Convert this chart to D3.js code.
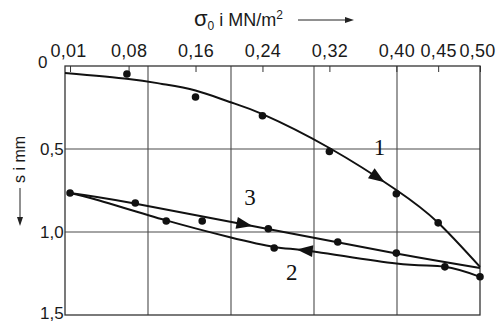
<!DOCTYPE html>
<html>
<head>
<meta charset="utf-8">
<script src="https://cdn.jsdelivr.net/npm/d3@7"></script>
<style>
  body { margin: 0; background: #fff; }
  svg { display: block; }
  .lab { font-family: "Liberation Sans Narrow", "Arial Narrow", "Liberation Sans", sans-serif; fill: #1a1a1a; }
  .num { font-family: "Liberation Serif", "DejaVu Serif", serif; fill: #111; }
</style>
</head>
<body>
<div id="chart"></div>
<script>
// Axis ticks
const xTicks = [0.01, 0.08, 0.16, 0.24, 0.32, 0.40, 0.45, 0.50];
const yTicks = [0, 0.5, 1.0, 1.5];

// Curve 1 - first loading (fitted line + measured points)
const c1LineX = [0.004, 0.08, 0.12, 0.16, 0.20, 0.24, 0.32, 0.40, 0.45, 0.50];
const c1LineS = [0.042, 0.078, 0.108, 0.148, 0.215, 0.29, 0.494, 0.747, 0.944, 1.21];
const c1DotX = [0.078, 0.16, 0.24, 0.32, 0.40, 0.45];
const c1DotS = [0.048, 0.187, 0.30, 0.515, 0.77, 0.945];

// Curve 2 - unloading
const c2LineX = [0.01, 0.045, 0.125, 0.20, 0.254, 0.305, 0.40, 0.458, 0.50];
const c2LineS = [0.765, 0.81, 0.93, 1.03, 1.09, 1.12, 1.19, 1.21, 1.27];
const c2DotX = [0.125, 0.254, 0.458, 0.50];
const c2DotS = [0.934, 1.096, 1.21, 1.27];

// Curve 3 - reloading
const c3LineX = [0.01, 0.084, 0.245, 0.40, 0.50];
const c3LineS = [0.765, 0.825, 0.98, 1.13, 1.217];
const c3DotX = [0.01, 0.088, 0.168, 0.247, 0.33, 0.40];
const c3DotS = [0.765, 0.825, 0.934, 0.98, 1.06, 1.127];

// Curve labels and arrow positions (sigma of arrow tip, direction)
const curveNames = ["1", "2", "3"];
const labelX = [0.380, 0.275, 0.225];
const labelS = [0.49, 1.24, 0.79];
const arrowX = [0.386, 0.281, 0.228];
const arrowDir = [1, -1, 1];

const width = 496, height = 322;
const fmt = d3.formatLocale({ decimal: ",", thousands: ".", grouping: [3], currency: ["", ""] });
const fmtX = fmt.format(".2f");
const fmtY = fmt.format(".1f");

const svg = d3.select("#chart").append("svg")
  .attr("width", width)
  .attr("height", height);

const x = d3.scaleLinear().domain([0.004, 0.50]).range([65, 480]);
const y = d3.scaleLinear().domain([0, 1.5]).range([66, 315]);

// Grid (5 equal columns, lines at 0,5 and 1,0)
const [x0, x1] = x.range();
const grid = svg.append("g").attr("stroke", "#4a4a4a").attr("stroke-width", 1.1);
grid.selectAll(".v").data(d3.range(1, 5)).enter().append("line")
  .attr("x1", i => x0 + i * (x1 - x0) / 5)
  .attr("x2", i => x0 + i * (x1 - x0) / 5)
  .attr("y1", y(0)).attr("y2", y(1.5));
grid.selectAll(".h").data([0.5, 1.0]).enter().append("line")
  .attr("x1", x0).attr("x2", x1)
  .attr("y1", d => y(d)).attr("y2", d => y(d));

// Frame
svg.append("rect")
  .attr("x", x0).attr("y", y(0))
  .attr("width", x1 - x0).attr("height", y(1.5) - y(0))
  .attr("fill", "none").attr("stroke", "#333").attr("stroke-width", 1.3);

// Top axis
const xAxis = svg.append("g")
  .attr("transform", `translate(0,${y(0)})`)
  .call(d3.axisTop(x).tickValues(xTicks).tickSize(-6).tickSizeOuter(0).tickPadding(9)
    .tickFormat(d => fmtX(d)));
xAxis.select(".domain").remove();
xAxis.selectAll("line").attr("stroke", "#333");
xAxis.selectAll("text")
  .attr("class", "lab")
  .attr("font-size", 18)
  .attr("letter-spacing", 0.3)
  .attr("dx", d => d === 0.01 ? -2 : d === 0.50 ? -3 : 0);

// Left labels
svg.append("g").selectAll("text").data(yTicks).enter().append("text")
  .attr("class", "lab")
  .attr("font-size", 17)
  .attr("x", d => d === 0 ? 38 : 40)
  .attr("y", d => y(d) + 6 - (d === 0 ? 4 : 0) - (d === 1.5 ? 2 : 0))
  .text(d => d === 0 ? "0" : fmtY(d));

// Axis titles
const title = svg.append("text").attr("class", "lab")
  .attr("x", 194).attr("y", 26).attr("font-size", 18);
title.append("tspan").attr("font-size", 22).text("σ");
title.append("tspan").attr("font-size", 12).attr("dy", 4).text("0");
title.append("tspan").attr("dy", -4).text(" i MN/m");
title.append("tspan").attr("font-size", 12).attr("dy", -7).text("2");
svg.append("line").attr("x1", 298).attr("x2", 346).attr("y1", 20).attr("y2", 20)
  .attr("stroke", "#222").attr("stroke-width", 1);
svg.append("path").attr("d", "M354,20L345,17L345,23Z").attr("fill", "#222");

svg.append("text")
  .attr("font-family", "Liberation Sans, Arial, sans-serif")
  .attr("fill", "#1a1a1a")
  .attr("font-size", 16)
  .attr("transform", "translate(25,183) rotate(-90)")
  .text("s i mm");
svg.append("line").attr("x1", 20).attr("x2", 20).attr("y1", 188).attr("y2", 218)
  .attr("stroke", "#222").attr("stroke-width", 1);
svg.append("path").attr("d", "M20,226L17,217L23,217Z").attr("fill", "#222");

// Curves
const line = d3.line().x(d => x(d[0])).y(d => y(d[1])).curve(d3.curveNatural);
const lines = [[c1LineX, c1LineS], [c2LineX, c2LineS], [c3LineX, c3LineS]];
const dots = [[c1DotX, c1DotS], [c2DotX, c2DotS], [c3DotX, c3DotS]];

const paths = lines.map(([xs, ss]) =>
  svg.append("path")
    .datum(xs.map((v, i) => [v, ss[i]]))
    .attr("d", line)
    .attr("fill", "none")
    .attr("stroke", "#111")
    .attr("stroke-width", 2));

dots.forEach(([xs, ss]) => {
  svg.append("g").selectAll("circle")
    .data(xs.map((v, i) => [v, ss[i]]))
    .enter().append("circle")
    .attr("cx", d => x(d[0]))
    .attr("cy", d => y(d[1]))
    .attr("r", 3.8)
    .attr("fill", "#111");
});

// Direction arrows on the curves
function arrowOn(path, xv, dir) {
  const node = path.node();
  const L = node.getTotalLength();
  const px = x(xv);
  let lo = 0, hi = L;
  for (let i = 0; i < 30; i++) {
    const mid = (lo + hi) / 2;
    if (node.getPointAtLength(mid).x < px) lo = mid; else hi = mid;
  }
  const p = node.getPointAtLength(lo);
  const a = node.getPointAtLength(Math.max(0, lo - 3));
  const b = node.getPointAtLength(Math.min(L, lo + 3));
  let ux = (b.x - a.x) * dir, uy = (b.y - a.y) * dir;
  const n = Math.hypot(ux, uy);
  ux /= n; uy /= n;
  const len = 16, hw = 6;
  const bx = p.x - ux * len, by = p.y - uy * len;
  svg.append("path")
    .attr("d", `M${p.x},${p.y}L${bx - uy * hw},${by + ux * hw}L${bx + uy * hw},${by - ux * hw}Z`)
    .attr("fill", "#111");
}
paths.forEach((p, i) => arrowOn(p, arrowX[i], arrowDir[i]));

// Curve numbers
svg.append("g").selectAll("text").data(curveNames).enter().append("text")
  .attr("class", "num")
  .attr("font-size", 23)
  .attr("text-anchor", "middle")
  .attr("x", (d, i) => x(labelX[i]))
  .attr("y", (d, i) => y(labelS[i]) + 8)
  .text(d => d);
</script>
</body>
</html>
